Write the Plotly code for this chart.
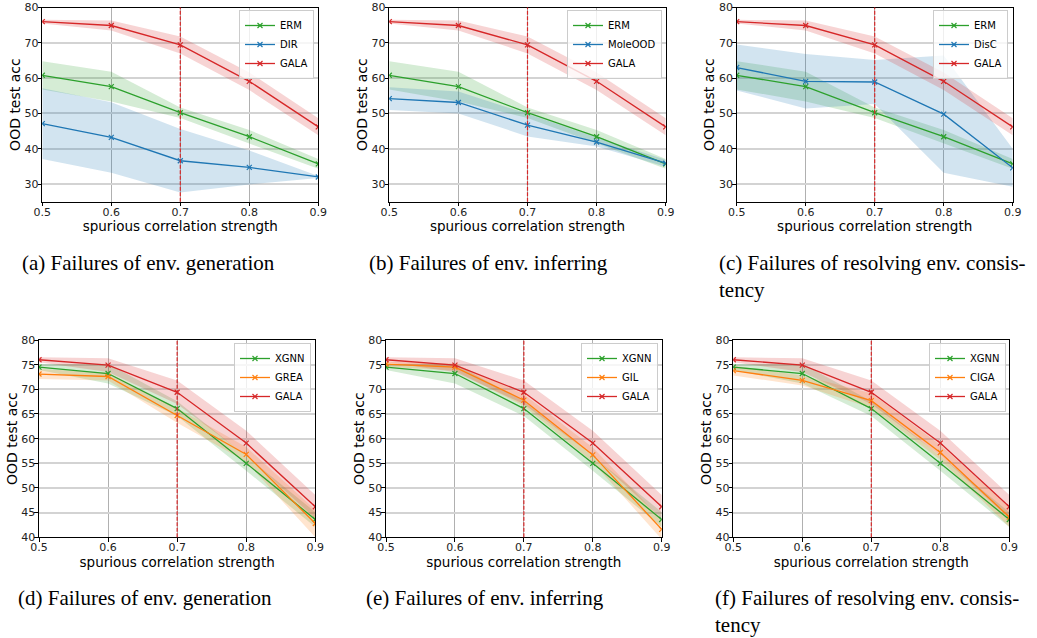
import plotly.graph_objects as go

W, H = 1037, 638

x_vals = [0.5, 0.6, 0.7, 0.8, 0.9]

gala_mean = [76.0, 74.9, 69.4, 59.1, 46.2]
gala_std = [0.5, 1.4, 2.4, 2.5, 2.4]
erm_mean = [60.8, 57.6, 50.2, 43.4, 35.7]
erm_std = [4.0, 4.2, 1.5, 1.9, 1.4]
dir_mean = [47.1, 43.2, 36.6, 34.7, 32.0]
dir_std = [10.0, 10.0, 9.0, 4.8, 0.3]
moleood_mean = [54.2, 53.1, 46.7, 41.9, 35.9]
moleood_std = [3.2, 3.1, 3.2, 1.3, 1.0]
disc_mean = [63.0, 59.1, 58.9, 49.8, 34.6]
disc_std = [6.5, 7.7, 6.2, 16.6, 5.4]

xgnn_mean = [74.5, 73.2, 66.1, 55.0, 43.6]
xgnn_std = [0.6, 2.0, 1.5, 1.5, 1.5]
grea_mean = [73.1, 72.6, 64.7, 56.8, 42.8]
grea_std = [1.0, 0.8, 1.5, 1.5, 2.8]
gil_mean = [75.1, 74.5, 67.8, 56.7, 41.6]
gil_std = [0.5, 0.7, 1.2, 1.5, 2.0]
ciga_mean = [73.8, 71.8, 67.7, 57.2, 44.1]
ciga_std = [1.0, 1.0, 1.5, 1.5, 2.0]

x_ticks = [0.5, 0.6, 0.7, 0.8, 0.9]
y_ticks_top = [30, 40, 50, 60, 70, 80]
y_ticks_bottom = [40, 45, 50, 55, 60, 65, 70, 75, 80]

captions = [
    ["(a) Failures of env. generation"],
    ["(b) Failures of env. inferring"],
    ["(c) Failures of resolving env. consis-", "tency"],
    ["(d) Failures of env. generation"],
    ["(e) Failures of env. inferring"],
    ["(f) Failures of resolving env. consis-", "tency"],
]

GREEN, BLUE, ORANGE, RED = "#2ca02c", "#1f77b4", "#ff7f0e", "#d62728"

def rgba(hexc, a):
    h = hexc.lstrip("#")
    return "rgba(%d,%d,%d,%.2f)" % (int(h[0:2], 16), int(h[2:4], 16), int(h[4:6], 16), a)

panels = [
    dict(series=[("ERM", erm_mean, erm_std, GREEN), ("DIR", dir_mean, dir_std, BLUE), ("GALA", gala_mean, gala_std, RED)],
         box=(42.3, 318.3, 7.5, 201.7), yr=[25, 80], yt=y_ticks_top, leg=(314, 10), cap=(20, 263)),
    dict(series=[("ERM", erm_mean, erm_std, GREEN), ("MoleOOD", moleood_mean, moleood_std, BLUE), ("GALA", gala_mean, gala_std, RED)],
         box=(389.3, 665.7, 7.5, 201.7), yr=[25, 80], yt=y_ticks_top, leg=(662, 10), cap=(367, 263)),
    dict(series=[("ERM", erm_mean, erm_std, GREEN), ("DisC", disc_mean, disc_std, BLUE), ("GALA", gala_mean, gala_std, RED)],
         box=(736.7, 1012.7, 7.5, 201.7), yr=[25, 80], yt=y_ticks_top, leg=(1008, 10), cap=(717, 263)),
    dict(series=[("XGNN", xgnn_mean, xgnn_std, GREEN), ("GREA", grea_mean, grea_std, ORANGE), ("GALA", gala_mean, gala_std, RED)],
         box=(39.0, 315.3, 340.0, 537.3), yr=[40, 80], yt=y_ticks_bottom, leg=(311, 343), cap=(16, 598)),
    dict(series=[("XGNN", xgnn_mean, xgnn_std, GREEN), ("GIL", gil_mean, gil_std, ORANGE), ("GALA", gala_mean, gala_std, RED)],
         box=(386.0, 661.7, 340.0, 537.3), yr=[40, 80], yt=y_ticks_bottom, leg=(658, 343), cap=(364, 598)),
    dict(series=[("XGNN", xgnn_mean, xgnn_std, GREEN), ("CIGA", ciga_mean, ciga_std, ORANGE), ("GALA", gala_mean, gala_std, RED)],
         box=(733.3, 1009.3, 340.0, 537.3), yr=[40, 80], yt=y_ticks_bottom, leg=(1006, 343), cap=(713, 598)),
]

fig = go.Figure()
layout = dict(
    width=W, height=H, margin=dict(l=0, r=0, t=0, b=0, autoexpand=False),
    paper_bgcolor="white", plot_bgcolor="white",
    font=dict(family="DejaVu Sans", color="#222222"),
    shapes=[], annotations=[],
)

for i, p in enumerate(panels):
    idx = "" if i == 0 else str(i + 1)
    xa, ya = "x" + idx, "y" + idx
    legname = "legend" + idx
    x0, x1, yt, yb = p["box"]
    for name, m, s, col in p["series"]:
        upper = [a + b for a, b in zip(m, s)]
        lower = [a - b for a, b in zip(m, s)]
        fig.add_trace(go.Scatter(x=x_vals, y=upper, mode="lines", line=dict(width=0, color=col),
                                 showlegend=False, hoverinfo="skip", xaxis=xa, yaxis=ya))
        fig.add_trace(go.Scatter(x=x_vals, y=lower, mode="lines", line=dict(width=0, color=col),
                                 fill="tonexty", fillcolor=rgba(col, 0.2),
                                 showlegend=False, hoverinfo="skip", xaxis=xa, yaxis=ya))
    for name, m, s, col in p["series"]:
        fig.add_trace(go.Scatter(x=x_vals, y=m, mode="lines+markers", name=name,
                                 line=dict(color=col, width=1.3),
                                 marker=dict(symbol="x-thin", size=5, line=dict(color=col, width=1.2)),
                                 xaxis=xa, yaxis=ya, legend=legname))
    layout["xaxis" + idx] = dict(
        domain=[x0 / W, x1 / W], anchor=ya, range=[0.5, 0.9], tickvals=x_ticks,
        ticktext=["%.1f" % v for v in x_ticks], automargin=False, ticklabeloverflow="allow",
        showgrid=True, gridcolor="#b0b0b0", gridwidth=1,
        showline=True, linecolor="black", linewidth=1.2, mirror=True,
        ticks="outside", ticklen=3.5, tickcolor="black", tickwidth=1, ticklabelstandoff=-4,
        tickfont=dict(size=11, family="DejaVu Sans", color="#222222"),
        title=dict(text="spurious correlation strength", font=dict(size=13.5, family="DejaVu Sans", color="black"), standoff=0),
        zeroline=False,
    )
    layout["yaxis" + idx] = dict(
        domain=[1 - yb / H, 1 - yt / H], anchor=xa, range=p["yr"], tickvals=p["yt"], automargin=False,
        ticklabeloverflow="allow",
        showgrid=True, gridcolor="#d3d3d3", gridwidth=2,
        showline=True, linecolor="black", linewidth=1.2, mirror=True,
        ticks="outside", ticklen=3.5, tickcolor="black", tickwidth=1, ticklabelstandoff=-3,
        tickfont=dict(size=11, family="DejaVu Sans", color="#222222"),
        title=dict(text="OOD test acc", font=dict(size=14, family="DejaVu Sans", color="black"), standoff=0),
        zeroline=False,
    )
    lx, ly = p["leg"]
    layout[legname] = dict(
        x=lx / W, y=1 - ly / H, xanchor="right", yanchor="top", traceorder="normal",
        bgcolor="rgba(255,255,255,0.8)", bordercolor="#cccccc", borderwidth=1,
        font=dict(size=10, family="DejaVu Sans", color="black"),
        itemwidth=30, tracegroupgap=0,
    )
    layout["shapes"].append(dict(type="line", xref=xa, yref=ya + " domain", x0=0.7, x1=0.7, y0=0, y1=1,
                                 line=dict(color=RED, width=1.2, dash="4px,1.5px")))
    cx, cy = p["cap"]
    for k, line in enumerate(captions[i]):
        layout["annotations"].append(dict(
            text=line, xref="paper", yref="paper", x=cx / W, y=1 - (cy + 27 * k) / H,
            xanchor="left", yanchor="middle", showarrow=False,
            font=dict(family="Liberation Serif", size=21, color="black")))

fig.update_layout(**layout)
fig.write_html("out.html", config={"displayModeBar": False},
               post_script="document.body.style.margin='0';")
